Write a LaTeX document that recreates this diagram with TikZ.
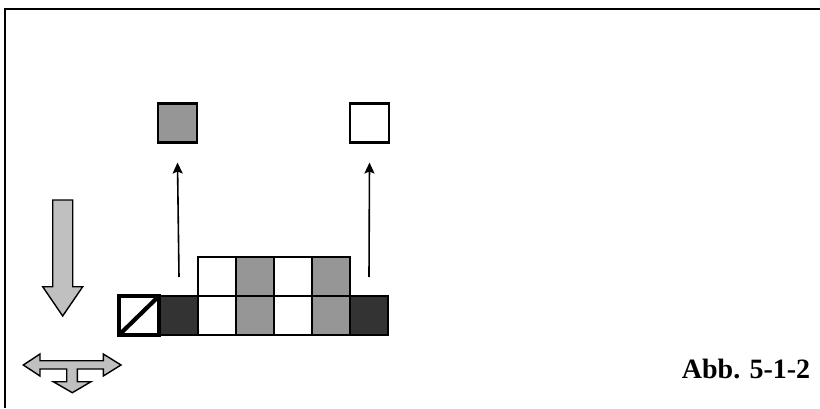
\documentclass[tikz,border=0pt]{standalone}
\usepackage{fontspec}
\setmainfont{Liberation Serif}
\usetikzlibrary{positioning,arrows.meta}
\definecolor{dark}{HTML}{333333}
\definecolor{mid}{HTML}{969696}
\definecolor{pale}{HTML}{C0C0C0}
\tikzset{
  cell/.style={rectangle,draw=black,line width=2.8pt,minimum width=38pt,
    minimum height=39pt,inner sep=0pt,outer sep=0pt},
  marker/.style={rectangle,draw=black,line width=2.8pt,minimum size=39pt,
    inner sep=0pt,outer sep=0pt},
  up/.style={-{Stealth[length=11pt,width=10pt,inset=2pt]},line width=1.6pt},
  bigarrow/.style={draw=black,line width=1.4pt,fill=pale,line join=miter},
}

\begin{document}
\begin{tikzpicture}[x=1pt,y=1pt]
  \useasboundingbox (0,0) rectangle (820,408);
  % frame
  \draw[line width=2pt] (5,0) -- (5,399) -- (820,399);
  % bottom and top rows
  \node[cell,minimum width=40pt,fill=white,line width=3.6pt] (b0) at (139,92.5) {};
  \draw[line width=4.2pt] (b0.south west) -- (b0.north east);
  \foreach \c [count=\i from 1] in {dark,white,mid,white,mid,dark}
    \node[cell,fill=\c] (b\i) at ({141+38*\i},92.5) {};
  \foreach \c [count=\i from 2] in {white,mid,white,mid}
    \node[cell,fill=\c] (t\i) at ({141+38*\i},131.5) {};
  % removed colours
  \node[marker,fill=mid] (gone1) at (177.5,285) {};
  \node[marker,fill=white] (gone6) at (369.5,285) {};
  \draw[up] ([yshift=19pt]b1.north) -- ([yshift=-20pt]gone1.south);
  \draw[up] ([yshift=19pt]b6.north) -- ([yshift=-20pt]gone6.south);
  % moves
  \draw[bigarrow] (52.7,208) -- (72.7,208) -- (72.7,121.3) -- (82.7,121.3)
    -- (62.7,92) -- (42.7,121.3) -- (52.7,121.3) -- cycle;
  \draw[bigarrow] (23.3,43) -- (40,54) -- (40,47.3) -- (103.3,47.3) -- (103.3,54)
    -- (121,43) -- (103.3,32) -- (103.3,39) -- (77.3,39) -- (77.3,26.3)
    -- (91,26.3) -- (72.3,15.3) -- (53.3,26.3) -- (66.7,26.3) -- (66.7,39)
    -- (40,39) -- (40,32) -- cycle;
  % caption
  \node[anchor=base west,inner sep=0pt,font=\fontsize{28}{30}\selectfont\bfseries]
    (caption) at (681.7,30) {Abb. 5-1-2};
\end{tikzpicture}
\end{document}
